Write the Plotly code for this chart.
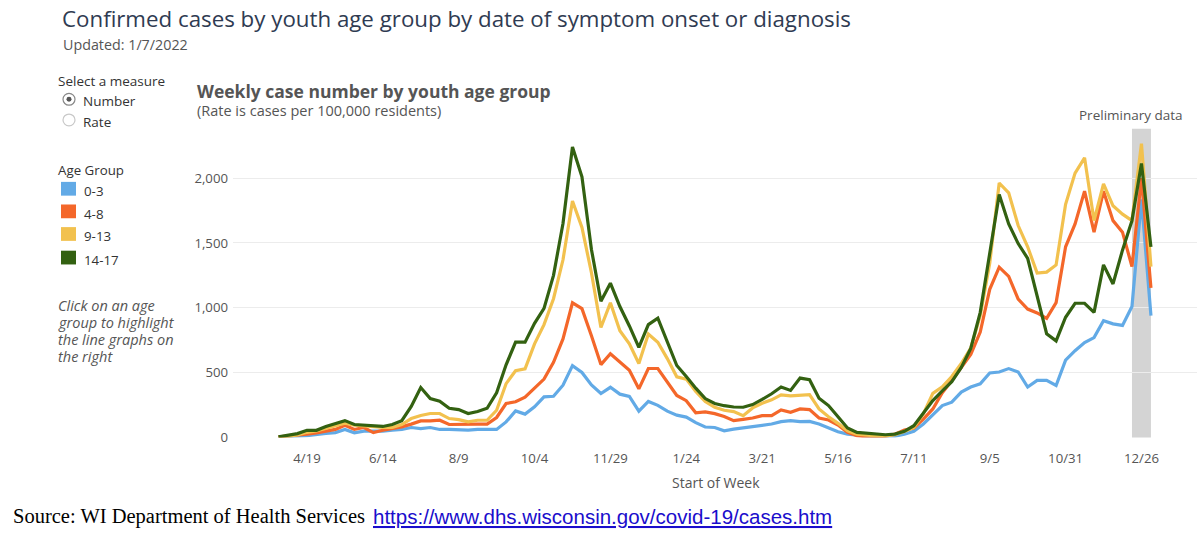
import pandas as pd
import plotly.graph_objects as go

W, H = 1200, 533

week_start = pd.date_range(start="2020-03-29", periods=93, freq="7D")

age_groups = ["0-3", "4-8", "9-13", "14-17"]
colors = ["#62aae6", "#f4672a", "#f2c14e", "#336111"]

cases_0_3 = [5, 5, 10, 15, 20, 31, 38, 62, 36, 49, 49, 49, 56, 62, 77, 69, 77, 62, 62, 56,
             56, 62, 62, 62, 120, 205, 180, 236, 313, 318, 403, 554, 501, 405, 339, 387, 334, 316, 203, 278,
             248, 203, 172, 157, 114, 81, 77, 52, 64, 73, 83, 91, 104, 122, 130, 122, 124, 104, 73, 44,
             26, 18, 13, 10, 8, 10, 26, 47, 104, 176, 246, 272, 350, 389, 414, 497, 505, 531, 505, 389,
             440, 440, 401, 596, 669, 732, 770, 901, 876, 864, 1010, 1836, 939]

cases_4_8 = [5, 10, 18, 25, 36, 51, 62, 95, 62, 77, 38, 56, 67, 82, 103, 128, 128, 133, 100, 103,
             103, 103, 103, 154, 262, 275, 310, 380, 450, 580, 760, 1038, 993, 785, 562, 646, 582, 519, 375, 532,
             532, 430, 324, 284, 190, 197, 184, 162, 130, 140, 150, 168, 168, 212, 194, 220, 215, 150, 135, 96,
             39, 13, 5, 5, 10, 26, 57, 73, 142, 220, 345, 440, 540, 640, 813, 1142, 1313, 1242, 1066, 990,
             960, 919, 1040, 1470, 1646, 1899, 1583, 1899, 1672, 1583, 1318, 2000, 1154]

cases_9_13 = [3, 8, 20, 40, 50, 70, 95, 110, 95, 87, 80, 77, 77, 100, 146, 170, 185, 185, 146, 138,
              120, 133, 133, 210, 415, 515, 530, 722, 870, 1070, 1370, 1823, 1620, 1270, 848, 1038, 823, 722, 570, 798,
              734, 608, 468, 450, 354, 278, 232, 210, 200, 168, 228, 264, 290, 329, 321, 326, 331, 220, 160, 109,
              52, 26, 18, 13, 13, 21, 47, 78, 181, 340, 390, 470, 570, 690, 939, 1343, 1962, 1886, 1634, 1470,
              1268, 1275, 1330, 1798, 2038, 2156, 1672, 1955, 1786, 1722, 1672, 2265, 1318]

cases_14_17 = [5, 15, 30, 55, 55, 85, 110, 130, 100, 95, 85, 85, 100, 130, 240, 385, 300, 280, 225, 215,
               185, 200, 225, 345, 560, 735, 735, 880, 995, 1250, 1650, 2240, 2010, 1450, 1050, 1190, 1010, 860, 695, 870,
               920, 735, 555, 470, 380, 300, 262, 245, 235, 233, 254, 293, 337, 389, 363, 458, 445, 303, 246, 160,
               73, 39, 34, 26, 21, 26, 47, 91, 185, 285, 360, 430, 540, 687, 965, 1419, 1874, 1646, 1495, 1381,
               1091, 800, 745, 927, 1035, 1035, 965, 1331, 1184, 1444, 1672, 2113, 1470]

series = [cases_0_3, cases_4_8, cases_9_13, cases_14_17]

prelim_start = "2021-12-19"
prelim_end = "2022-01-02"

x_range = ["2020-02-24 10:00", "2022-02-05"]
y_range = [0, 2380]

FONT = "Open Sans"
GRAY = "#555555"


def px(x):
    return x / W


def py(y):
    return 1 - y / H


fig = go.Figure()
for name, vals, col in zip(age_groups, series, colors):
    fig.add_trace(go.Scatter(x=week_start, y=vals, mode="lines", name=name,
                             line=dict(color=col, width=3.2), showlegend=False))

shapes = []
shapes.append(dict(type="rect", xref="x", yref="paper", x0=prelim_start, x1=prelim_end,
                   y0=py(445), y1=py(131), fillcolor="#d4d4d4", line=dict(width=0), layer="below"))

annotations = []


def txt(x, y, s, size=13, color=GRAY, xanchor="left", family=FONT, **kw):
    annotations.append(dict(x=px(x), y=py(y), xref="paper", yref="paper", text=s, showarrow=False,
                            xanchor=xanchor, yanchor="middle",
                            font=dict(size=size, color=color, family=family, **kw)))


txt(60, 19, "Confirmed cases by youth age group by date of symptom onset or diagnosis", size=22.3, color="#2f3b52")
txt(61, 45, "Updated: 1/7/2022", size=14.3, color=GRAY)
txt(56, 82, "Select a measure", size=13.5, color="#333333")
txt(81, 103, "Number", size=13.5, color="#333333")
txt(81, 124, "Rate", size=13.5, color="#333333")
txt(56, 173, "Age Group", size=13.3, color="#333333")

legend_rows = [192, 215, 238, 262]
for lab, col, yy in zip(age_groups, colors, legend_rows):
    shapes.append(dict(type="rect", xref="paper", yref="paper", x0=px(61), x1=px(76),
                       y0=py(yy + 7), y1=py(yy - 7), fillcolor=col, line=dict(width=0)))
    txt(82, yy + 2.5, lab, size=13.3, color="#333333")

for i, line in enumerate(["Click on an age", "group to highlight", "the line graphs on", "the right"]):
    txt(56, 311 + i * 17.3, "<i>" + line + "</i>", size=14.5, color=GRAY)

shapes.append(dict(type="circle", xref="paper", yref="paper", x0=px(63), x1=px(75),
                   y0=py(107), y1=py(95), line=dict(color="#888888", width=1.2), fillcolor="white"))
shapes.append(dict(type="circle", xref="paper", yref="paper", x0=px(66.5), x1=px(71.5),
                   y0=py(103.5), y1=py(98.5), line=dict(width=0), fillcolor="#555555"))
shapes.append(dict(type="circle", xref="paper", yref="paper", x0=px(63), x1=px(75),
                   y0=py(128), y1=py(116), line=dict(color="#c8c8c8", width=1.2), fillcolor="white"))

txt(195, 93, "<b>Weekly case number by youth age group</b>", size=17.5, color=GRAY)
txt(195, 112, "(Rate is cases per 100,000 residents)", size=14.5, color=GRAY)
txt(1131, 117, "Preliminary data", size=13.5, color=GRAY, xanchor="center")
txt(716, 491, "Start of Week", size=14, color=GRAY, xanchor="center")

txt(11, 525, "Source: WI Department of Health Services", size=20.5, color="#000000",
    family="Liberation Serif")
txt(371, 525, "https://www.dhs.wisconsin.gov/covid-19/cases.htm", size=20.5, color="#1a0dcc",
    family="Liberation Sans", lineposition="under")

fig.update_layout(
    width=W, height=H, margin=dict(l=0, r=0, t=0, b=0),
    paper_bgcolor="white", plot_bgcolor="white",
    shapes=shapes, annotations=annotations,
    font=dict(family=FONT, size=13, color=GRAY),
    xaxis=dict(domain=[px(233), px(1197)], type="date", range=x_range,
               tickmode="linear", tick0="2020-04-19", dtick=56 * 86400000,
               tickformat="%-m/%-d", showgrid=False, zeroline=False, showline=False,
               ticks="", ticklabelstandoff=11, tickfont=dict(size=13.2, color=GRAY, family=FONT)),
    yaxis=dict(domain=[py(445), py(131)], range=y_range, tickvals=[0, 500, 1000, 1500, 2000],
               ticktext=["0", "500", "1,000", "1,500", "2,000"],
               showgrid=True, gridcolor="#ececec", gridwidth=1, zeroline=False, showline=False,
               ticks="", ticklabelstandoff=4, tickfont=dict(size=13.2, color=GRAY, family=FONT)),
    hovermode=False,
)

fig.write_html("out.html", config={"displayModeBar": False})
